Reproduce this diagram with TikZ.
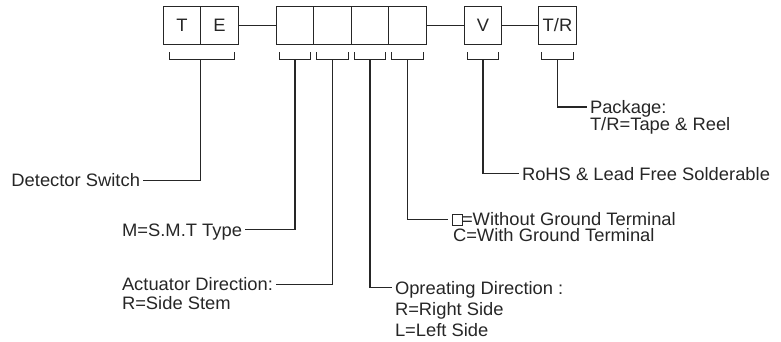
\documentclass[tikz,border=0pt]{standalone}
\usepackage{fontspec}
\setmainfont{Liberation Sans}[FakeStretch=1.02]
\usepackage{tikz}
\usetikzlibrary{positioning,calc}
\newcommand{\lblfont}{\fontsize{18}{20}\selectfont}

\begin{document}
\begin{tikzpicture}[x=1pt,y=-1pt,
	cell/.style={draw, line width=1.4pt, minimum width=37.5pt, minimum height=37.5pt, inner sep=0pt, outer sep=0pt, font=\lblfont},
	lbl/.style={font=\lblfont, inner sep=0pt, outer sep=3pt, text height=12.5pt, text depth=0pt},
	sq/.style={draw, line width=1pt, minimum width=10pt, minimum height=11pt, inner sep=0pt, outer sep=4pt},
	brk/.style={line width=1.2pt},
	con/.style={line width=1.2pt}]
	\useasboundingbox (0,0) rectangle (781,342);
	\begin{scope}[black!85]
		\node[cell] (T) at (182,25.5) {T};
		\node[cell, right=0pt of T] (E) {E};
		\node[cell, right=38pt of E] (b1) {};
		\node[cell, right=0pt of b1] (b2) {};
		\node[cell, right=0pt of b2] (b3) {};
		\node[cell, right=0pt of b3] (b4) {};
		\node[cell, right=38pt of b4] (bV) {V};
		\node[cell, right=37pt of bV] (bTR) {T/R};
		\draw[con] (E.east) -- (b1.west);
		\draw[con] (b4.east) -- (bV.west);
		\draw[con] (bV.east) -- (bTR.west);
		\draw[brk] ($(T.south west)+(6,8)$) |- ($(T.south east)+(0,15)$) coordinate (sTE) -| ($(E.south east)+(-4,8)$);
		\foreach \b in {b1,b2,b3,b4,bV,bTR}
			\draw[brk] ($(\b.south west)+(3,8)$) |- ($(\b.south)+(0,15)$) coordinate (s\b) -| ($(\b.south east)+(-3,8)$);
		\node[lbl, anchor=base east] (det) at (143,186.7) {Detector Switch};
		\node[lbl, anchor=base east] (smt) at (245,236) {M=S.M.T Type};
		\node[lbl, anchor=base west] (act) at (119,290.7) {Actuator Direction:};
		\node[lbl, anchor=base west] (act2) at (119,309.3) {R=Side Stem};
		\node[lbl, anchor=base west] (opr) at (392,294) {Opreating Direction :};
		\node[lbl, anchor=base west] (opr2) at (392,315) {R=Right Side};
		\node[lbl, anchor=base west] (opr3) at (392,336) {L=Left Side};
		\node[sq] (sq) at (457,219.5) {};
		\node[lbl, anchor=base west] (gnd) at (459,225) {=Without Ground Terminal};
		\node[lbl, anchor=base west] (gnd2) at (450,241.7) {C=With Ground Terminal};
		\node[lbl, anchor=base west] (rohs) at (519,180) {RoHS \& Lead Free Solderable};
		\node[lbl, anchor=base west] (pkg) at (587,113.3) {Package:};
		\node[lbl, anchor=base west] (pkg2) at (587,130) {T/R=Tape \& Reel};
		\draw[con] (sTE) |- (det.east);
		\draw[con] (sb1) |- (smt.east);
		\draw[con] (sb2) |- (act.east);
		\draw[con] (sb3) |- (opr.west);
		\draw[con] (sb4) |- (sq.west);
		\draw[con] (sbV) |- (rohs.west);
		\draw[con] (sbTR) |- (pkg.west);
	\end{scope}
\end{tikzpicture}
\end{document}
